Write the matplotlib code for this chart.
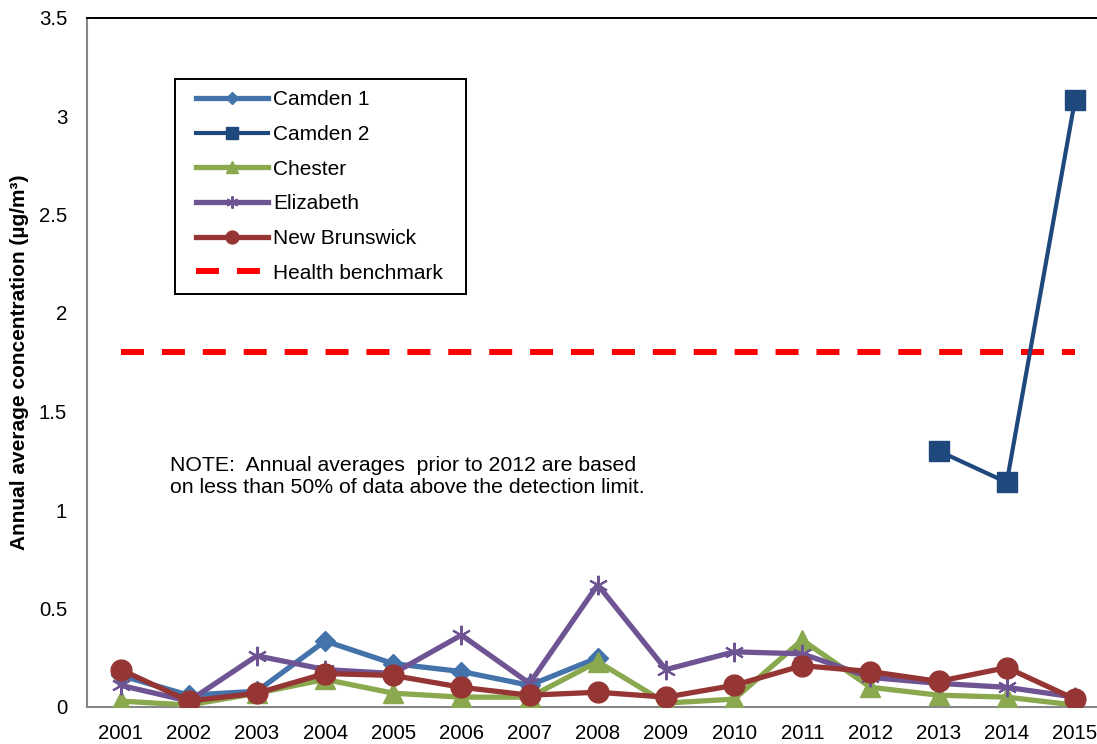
import numpy as np
import matplotlib
matplotlib.use("Agg")
import matplotlib.pyplot as plt
from matplotlib.legend_handler import HandlerLine2D

plt.rcParams['font.family'] = ['Liberation Sans', 'DejaVu Sans']

years = ['2001', '2002', '2003', '2004', '2005', '2006', '2007', '2008',
         '2009', '2010', '2011', '2012', '2013', '2014', '2015']
nan = np.nan
camden1 = [0.16, 0.06, 0.08, 0.335, 0.22, 0.18, 0.11, 0.25,
           nan, nan, nan, nan, nan, nan, nan]
camden2 = [nan, nan, nan, nan, nan, nan, nan, nan,
           nan, nan, nan, nan, 1.30, 1.14, 3.08]
chester = [0.03, 0.01, 0.07, 0.14, 0.07, 0.05, 0.05, 0.23,
           0.02, 0.04, 0.34, 0.10, 0.06, 0.05, 0.01]
elizabeth = [0.11, 0.03, 0.26, 0.19, 0.17, 0.365, 0.12, 0.62,
             0.19, 0.28, 0.27, 0.15, 0.12, 0.10, 0.05]
new_brunswick = [0.19, 0.03, 0.07, 0.17, 0.16, 0.10, 0.06, 0.075,
                 0.05, 0.11, 0.21, 0.18, 0.13, 0.20, 0.04]
benchmark = 1.8
note_lines = ['NOTE:  Annual averages  prior to 2012 are based',
              'on less than 50% of data above the detection limit.']

W, H = 1097, 744
fig = plt.figure(figsize=(W / 100, H / 100), dpi=100)
ax = fig.add_axes([86.5 / W, 37 / H, (1109 - 86.5) / W, (707 - 17.5) / H])
x = np.arange(len(years))

lw = 3.8
h1, = ax.plot(x, camden1, color='#4472AA', lw=lw, marker='D', ms=10,
              label='Camden 1', zorder=3)
h2, = ax.plot(x, camden2, color='#1F497D', lw=3.0, marker='s', ms=14,
              label='Camden 2', zorder=3)
h3, = ax.plot(x, chester, color='#8AA84E', lw=lw, marker='^', ms=14,
              label='Chester', zorder=3)
h4, = ax.plot(x, elizabeth, color='#6F5494', lw=lw, marker=(6, 2, 0), ms=14,
              mew=1.5, label='Elizabeth', zorder=4)
h5, = ax.plot(x, new_brunswick, color='#963634', lw=lw, marker='o', ms=15,
              label='New Brunswick', zorder=5)
h6, = ax.plot(x, [benchmark] * len(x), color='#FF0000', lw=4.3,
              dashes=(3.85, 3.0), dash_capstyle='butt',
              label='Health benchmark', zorder=2)

ax.set_xlim(-0.5, len(years) - 0.5)
ax.set_ylim(0, 3.5)
ax.set_yticks([0, 0.5, 1, 1.5, 2, 2.5, 3, 3.5])
ax.set_yticklabels(['0', '0.5', '1', '1.5', '2', '2.5', '3', '3.5'])
ax.set_xticks(x)
ax.set_xticklabels(years)
ax.tick_params(axis='both', length=0, labelsize=14.7)
ax.tick_params(axis='y', pad=14)
ax.tick_params(axis='x', pad=12.5)

for s in ['left', 'bottom']:
    ax.spines[s].set_color('#868686')
    ax.spines[s].set_linewidth(1.5)
ax.spines['top'].set_color('black')
ax.spines['top'].set_linewidth(1.4)
ax.spines['right'].set_visible(False)

ax.set_ylabel('Annual average concentration (µg/m³)', fontsize=15,
              fontweight='bold')
ax.yaxis.set_label_coords((29 - 86.5) / (1109 - 86.5), 0.5)

fig.text(170 / W, 1 - 471 / H, note_lines[0], fontsize=15.3,
         va='baseline', ha='left')
fig.text(170 / W, 1 - 493 / H, note_lines[1], fontsize=15.3,
         va='baseline', ha='left')

fs = 15
handler = HandlerLine2D(xpad=0.46)
leg = ax.legend(handles=[h1, h2, h3, h4, h5, h6], loc='upper left',
                bbox_to_anchor=(175 / W, 1 - 79 / H - 0.01, (466 - 175) / W, 0.01),
                mode='expand',
                bbox_transform=fig.transFigure, fontsize=fs,
                handlelength=3.91, labelspacing=0.75, handletextpad=0.24,
                borderpad=0.55, borderaxespad=0, fancybox=False,
                framealpha=1, edgecolor='black', markerscale=0.62,
                handler_map={h: handler for h in [h1, h2, h3, h4, h5, h6]})
leg.get_frame().set_linewidth(1.4)

fig.savefig('out.png', dpi=100)
